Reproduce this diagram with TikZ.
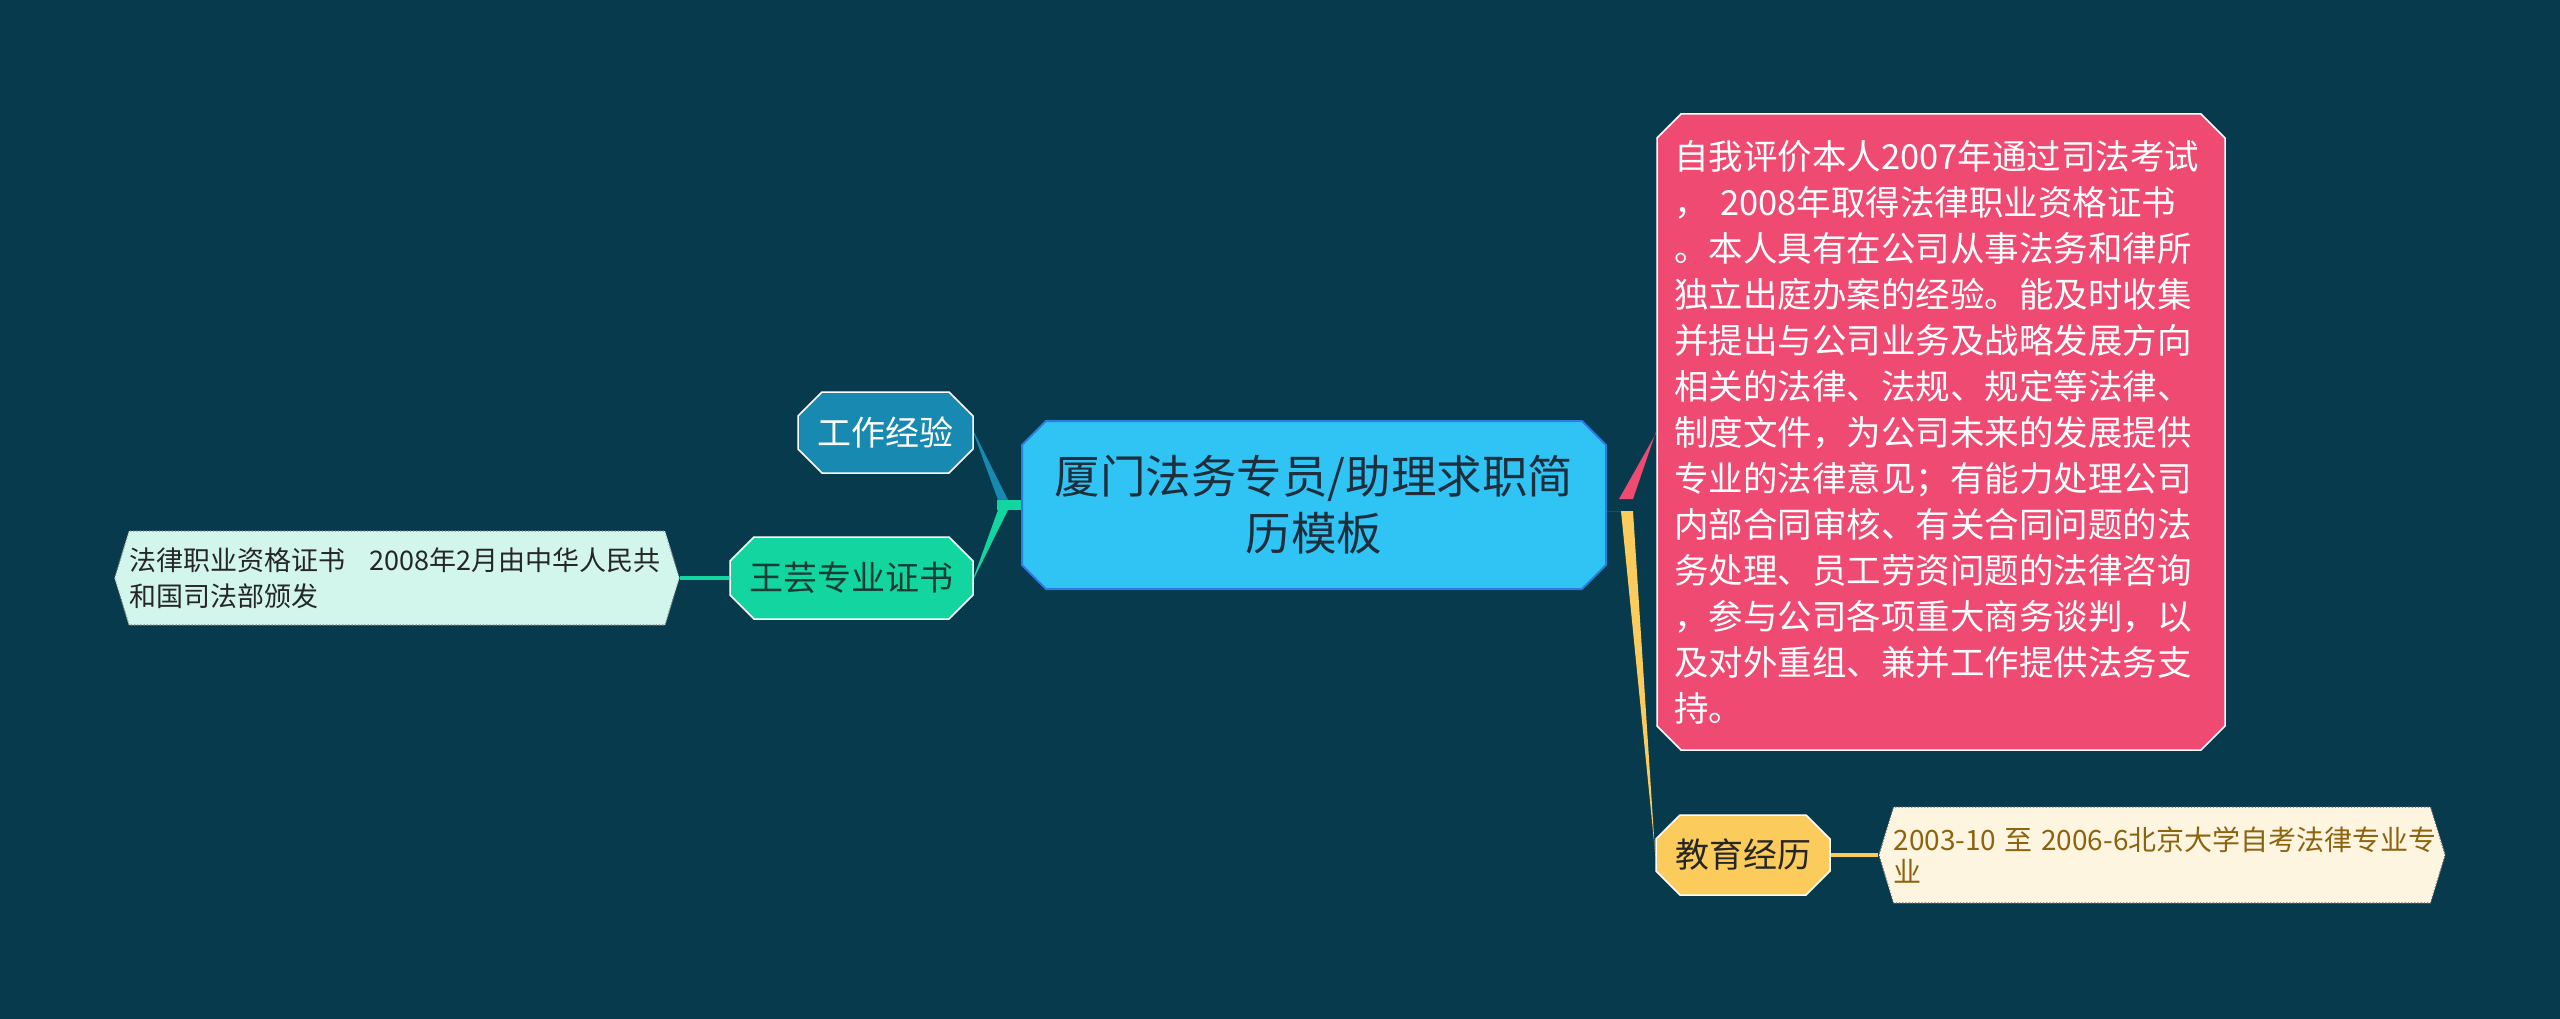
\documentclass[tikz,border=0pt]{standalone}
\usepackage{fontspec}
\setmainfont{Noto Sans CJK SC}
\usetikzlibrary{shapes.misc,shapes.symbols}
\definecolor{bgc}{HTML}{083A4E}
\definecolor{cfill}{HTML}{30C4F5}
\definecolor{cline}{HTML}{2C7DE0}
\definecolor{ctext}{HTML}{1E2E3C}
\definecolor{wkfill}{HTML}{1889B1}
\definecolor{wyfill}{HTML}{12D5A0}
\definecolor{wytext}{HTML}{173B35}
\definecolor{llfill}{HTML}{D2F5EC}
\definecolor{pkfill}{HTML}{EF4A72}
\definecolor{edfill}{HTML}{FBCB5C}
\definecolor{lffill}{HTML}{FEF5E0}
\definecolor{lftext}{HTML}{8C6410}
\pgfdeclarelayer{bglayer}
\pgfdeclarelayer{edgelayer}
\pgfsetlayers{bglayer,edgelayer,main}
\begin{document}
\begin{tikzpicture}[x=1pt,y=-1pt,
  box/.style={chamfered rectangle, chamfered rectangle xsep=12pt, chamfered rectangle ysep=12pt, inner sep=0pt, align=center},
  leafbox/.style={signal, signal to=east and west, signal pointer angle=146, inner sep=0pt, draw=gray, dotted, line width=1.2pt, align=left},
  conn/.style={line width=4pt}
]
\begin{pgfonlayer}{bglayer}
\fill[bgc] (0,0) rectangle (2560,1019);
\end{pgfonlayer}
\useasboundingbox (0,0) rectangle (2560,1019);

\node[box, fill=cfill, draw=cline, line width=2pt, minimum width=584pt, minimum height=168pt, text=ctext, font=\fontsize{45.5}{57}\selectfont] (c) at (1314,505) {厦门法务专员/助理求职简\\历模板};

\node[box, fill=wkfill, draw=white, line width=1.5pt, minimum width=175pt, minimum height=81pt, text=white, font=\fontsize{34}{40}\selectfont] (wk) at (885.5,432.5) {工作经验};

\node[box, fill=wyfill, draw=white, line width=1.5pt, minimum width=243pt, minimum height=82pt, text=wytext, font=\fontsize{34}{40}\selectfont] (wy) at (851.5,578) {王芸专业证书};

\node[leafbox, fill=llfill, minimum width=562pt, minimum height=94pt, text width=536pt, text=black!85, font=\fontsize{27}{36}\selectfont] (ll) at (397,578) {法律职业资格证书\hspace{0.9em}2008年2月由中华人民共\\和国司法部颁发};

\node[box, fill=pkfill, draw=white, line width=1.5pt, minimum width=568pt, minimum height=636pt, text width=534pt, align=left, text=white, font=\fontsize{34.5}{46}\selectfont] (pk) at (1941,432) {自我评价本人2007年通过司法考试\\， 2008年取得法律职业资格证书\\。本人具有在公司从事法务和律所\\独立出庭办案的经验。能及时收集\\并提出与公司业务及战略发展方向\\相关的法律、法规、规定等法律、\\制度文件，为公司未来的发展提供\\专业的法律意见；有能力处理公司\\内部合同审核、有关合同问题的法\\务处理、员工劳资问题的法律咨询\\，参与公司各项重大商务谈判，以\\及对外重组、兼并工作提供法务支\\持。};

\node[box, fill=edfill, draw=white, line width=1.5pt, minimum width=174pt, minimum height=80pt, text=black!85, font=\fontsize{34}{40}\selectfont] (edu) at (1743,855) {教育经历};

\node[leafbox, fill=lffill, draw=black!60, minimum width=561pt, minimum height=96pt, text width=537pt, text=lftext, font=\fontsize{28}{32}\selectfont] (lf) at (2162,855) {\mbox{2003-10\hspace{0.3em}至\hspace{0.3em}2006-6北京大学自考法律专业专}\\业};

\coordinate (jl) at ([xshift=-24pt]c.west);
\coordinate (jr) at ([xshift=14pt]c.east);
\begin{pgfonlayer}{edgelayer}
\fill[wyfill] ([yshift=-5pt]c.west) rectangle ([yshift=5pt]jl);
\fill[wkfill] ([yshift=1pt]wk.east) -- ([yshift=-1pt]wk.east) -- ([shift={(1,-5)}]jl) -- ([shift={(11,-5)}]jl) -- cycle;
\fill[wyfill] ([yshift=-1pt]wy.east) -- ([yshift=1pt]wy.east) -- ([shift={(1,5)}]jl) -- ([shift={(11,5)}]jl) -- cycle;
\fill[edfill] ([yshift=-6pt]c.east) rectangle ([shift={(12,6)}]jr);
\fill[pkfill] ([yshift=-1pt]pk.west) -- ([yshift=1pt]pk.west) -- ([shift={(12,-6)}]jr) -- ([shift={(-2,-6)}]jr) -- cycle;
\fill[edfill] ([yshift=-1pt]edu.west) -- ([yshift=1pt]edu.west) -- ([shift={(0,6)}]jr) -- ([shift={(12,6)}]jr) -- cycle;
\draw[conn, wyfill] (wy.west) -- (ll.east);
\draw[conn, edfill] (edu.east) -- (lf.west);
\end{pgfonlayer}
\end{tikzpicture}
\end{document}
